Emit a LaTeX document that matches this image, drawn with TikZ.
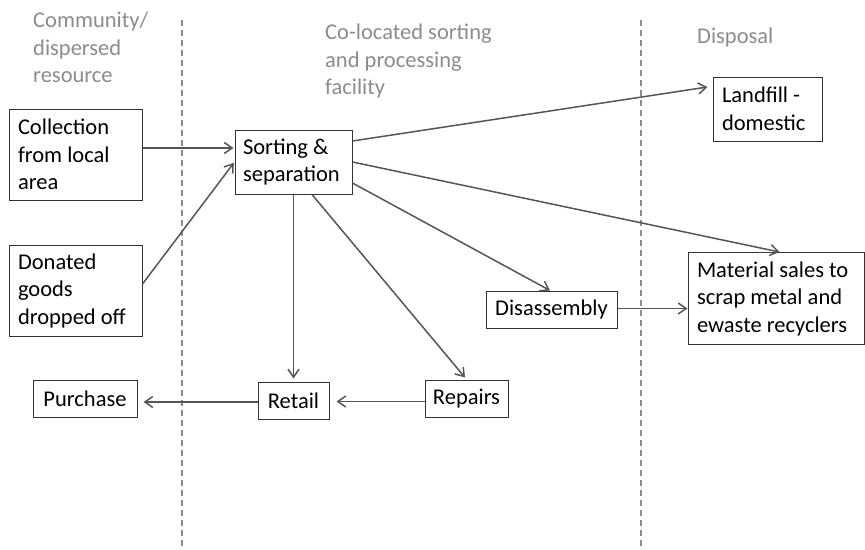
\documentclass[tikz,border=0pt]{standalone}
\usepackage{fontspec}
\setmainfont{Carlito}
\usetikzlibrary{arrows.meta,calc}
\definecolor{hdr}{HTML}{8C8C8C}
\definecolor{arr}{HTML}{555555}
\definecolor{bx}{HTML}{333333}
\begin{document}
\begin{tikzpicture}[x=1pt,y=-1pt,
  every node/.style={font=\fontsize{22.5}{27.5}\selectfont},
  boxml/.style={draw=bx, line width=1pt, inner xsep=9pt, inner ysep=0pt, align=flush left},
  boxsl/.style={draw=bx, line width=1pt, inner sep=0pt},
  hdrtext/.style={text=hdr, align=flush left, inner sep=0pt, anchor=north west},
  flow/.style={draw=arr, line width=1.5pt, -{Straight Barb[length=8pt,width=11pt,line width=1.5pt]}},
  divider/.style={draw=hdr, line width=1.2pt, dash pattern=on 6pt off 4pt}]
\useasboundingbox (0,0) rectangle (865,549);
% dividers
\coordinate (d1t) at (182,20);
\coordinate (d1b) at (182,549);
\coordinate (d2t) at (641,20);
\coordinate (d2b) at (641,549);
\draw[divider] (d1t) -- (d1b);
\draw[divider] (d2t) -- (d2b);
% headers
\node[hdrtext] (h1) at (33,12) {Community/\\dispersed\\resource};
\node[hdrtext] (h2) at (325,24) {Co-located sorting\\and processing\\facility};
\node[hdrtext] (h3) at (697,28) {Disposal};
% boxes
\node[boxml, text width=115pt, minimum height=91pt] (coll) at (75.5,154.5) {Collection\\from local\\area};
\node[boxml, text width=115pt, minimum height=91pt] (don) at (75.5,290.5) {Donated\\goods\\dropped off};
\node[boxml, inner xsep=8pt, text width=101pt, minimum height=64pt] (sort) at (293.5,162) {Sorting \&\\separation};
\node[boxml, text width=91pt, minimum height=64pt] (land) at (767.5,109) {Landfill -\\domestic};
\node[boxml, inner xsep=9pt, text width=158pt, minimum height=92pt] (mat) at (776,298.5) {Material sales to\\scrap metal and\\ewaste recyclers};
\node[boxsl, minimum width=131pt, minimum height=37pt] (dis) at (551.5,309.5) {Disassembly};
\node[boxsl, minimum width=71pt, minimum height=37pt] (ret) at (293.5,400.5) {Retail};
\node[boxsl, minimum width=83pt, minimum height=37pt] (rep) at (466.5,398.5) {Repairs};
\node[boxsl, minimum width=104pt, minimum height=37pt] (pur) at (85,398.5) {Purchase};
% connectors
\draw[flow, shorten >=1pt] ([yshift=6.5pt]coll.east) -- ([yshift=14pt]sort.west);
\draw[flow, shorten >=1pt] ([yshift=6.5pt]don.east) -- (sort.west);
\draw[flow] ([yshift=21pt]sort.east) -- ([xshift=-5pt,yshift=22pt]land.west);
\draw[flow] (sort.east) -- ([xshift=3.5pt]mat.north);
\draw[flow] ([yshift=-21pt]sort.east) -- ([xshift=-1.5pt]dis.north);
\draw[flow] ([xshift=18.5pt]sort.south) -- ([xshift=-1.5pt,yshift=2pt]rep.north);
\draw[flow, shorten >=3pt] (sort.south) -- (ret.north);
\draw[flow] ([yshift=1pt]dis.east) -- ([yshift=1pt]dis.east -| mat.west);
\draw[flow, shorten >=7pt] ([yshift=-3pt]rep.west) -- ([yshift=-3pt]rep.west -| ret.east);
\draw[flow, shorten >=6pt] ([yshift=-1.5pt]ret.west) -- ([yshift=-1.5pt]ret.west -| pur.east);
\end{tikzpicture}
\end{document}
